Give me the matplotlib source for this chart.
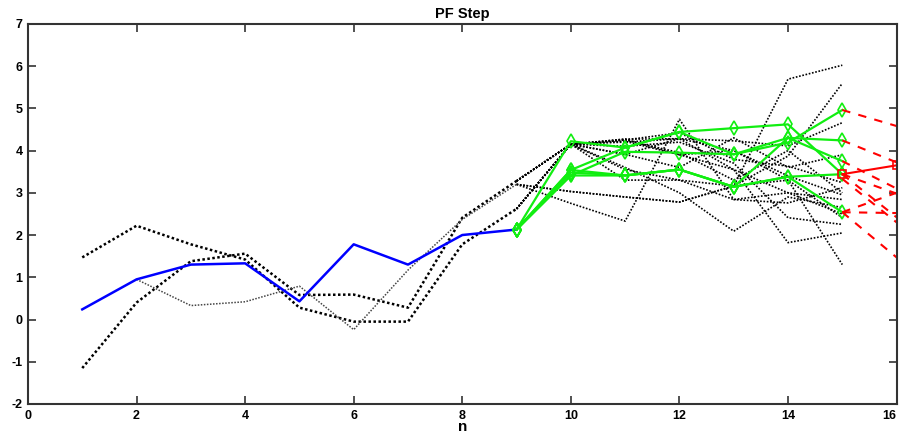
import numpy as np
import matplotlib
matplotlib.use("Agg")
import matplotlib.pyplot as plt

plt.rcParams['font.family'] = ['Liberation Sans', 'DejaVu Sans']
plt.rcParams['axes.unicode_minus'] = False

# true / estimated state, n = 1..9
n_blue = list(range(1, 10))
blue = [0.24, 0.95, 1.30, 1.33, 0.43, 1.78, 1.30, 2.00, 2.13]

# particle histories before the branching (n = 1..9, C starts at n = 2)
hist_a = [1.47, 2.22, 1.78, 1.42, 0.28, -0.05, -0.05, 1.78, 2.62]
hist_b = [-1.15, 0.40, 1.38, 1.56, 0.58, 0.59, 0.28, 2.41, 3.28]
hist_c = [0.95, 0.33, 0.42, 0.79, -0.24, 1.17, 2.37, 3.20]

# particle tails n = 10..15, each with the history it grows from
tail_from = ['b', 'b', 'a', 'a', 'b', 'c', 'c', 'a', 'b', 'a', 'b', 'c', 'a', 'b', 'a']
tails = [
    [4.15, 4.27, 4.28, 4.23, 4.11, 4.66],
    [4.15, 4.25, 4.42, 3.79, 3.63, 3.24],
    [4.15, 4.22, 3.90, 4.00, 3.30, 1.30],
    [4.15, 3.91, 4.28, 3.55, 3.00, 2.84],
    [4.15, 3.55, 3.30, 3.16, 5.69, 6.02],
    [3.03, 2.90, 2.78, 3.16, 3.87, 5.59],
    [2.75, 2.33, 4.74, 2.84, 2.76, 3.12],
    [4.15, 3.60, 3.00, 2.09, 2.90, 2.65],
    [4.15, 4.27, 3.90, 3.55, 1.82, 2.05],
    [4.15, 4.10, 4.20, 3.70, 2.41, 2.25],
    [4.15, 4.25, 3.95, 3.30, 4.00, 3.00],
    [3.03, 2.90, 2.78, 3.16, 3.30, 2.41],
    [4.15, 3.91, 3.60, 4.30, 3.60, 3.90],
    [4.15, 3.30, 3.30, 2.84, 3.00, 2.50],
    [4.15, 4.20, 4.28, 4.00, 3.40, 2.95],
]

# surviving particles, n = 9..15
n_green = list(range(9, 16))
green = [
    [2.13, 4.22, 4.07, 4.44, 4.53, 4.62, 3.44],
    [2.13, 3.54, 4.07, 4.44, 3.91, 4.19, 4.96],
    [2.13, 3.41, 3.97, 3.95, 3.91, 4.30, 4.24],
    [2.13, 3.54, 3.41, 3.55, 3.14, 4.30, 3.75],
    [2.13, 3.41, 3.41, 3.55, 3.14, 3.38, 2.54],
    [2.13, 3.48, 3.41, 3.55, 3.14, 3.38, 3.44],
]

# one-step predictions n = 15 -> 16
pred_start = [4.96, 4.24, 3.75, 3.44, 3.44, 3.33, 2.54, 2.54, 2.54]
pred_end = [4.58, 3.72, 3.10, 2.98, 2.42, 2.30, 3.00, 2.52, 1.47]
est_n = [15, 16]
est = [3.44, 3.65]

fig = plt.figure(figsize=(9.02, 4.33), dpi=100)
ax = fig.add_axes([0.031, 0.067, 0.963, 0.878])

hist = {'a': hist_a, 'b': hist_b, 'c': hist_c}
dots = (0, (1, 1))

for key, tail in zip(tail_from, tails):
    h = hist[key]
    ax.plot([9] + list(range(10, 16)), [h[-1]] + tail, color='black', ls=dots, lw=1.2)

ax.plot(range(1, 10), hist_a, color='black', ls=dots, lw=1.8)
ax.plot(range(1, 10), hist_b, color='black', ls=dots, lw=1.8)
ax.plot(range(2, 10), hist_c, color='#444444', ls=dots, lw=1.1)

ax.plot(n_blue, blue, color='blue', lw=1.8)

for g in green:
    ax.plot(n_green, g, color='#11ee11', lw=1.6, marker='d', ms=7,
            mfc='none', mec='#11ee11', mew=1.2)

for s, e in zip(pred_start, pred_end):
    ax.plot([15, 16], [s, e], color='red', ls=(0, (4, 4)), lw=1.5)
ax.plot(est_n, est, color='red', lw=1.5, marker='s', ms=6, mfc='none', mec='red', mew=1.2)

ax.set_xlim(0, 16)
ax.set_ylim(-2, 7)
ax.set_xticks(np.arange(0, 17, 2))
ax.set_yticks(np.arange(-2, 8, 1))
ax.tick_params(direction='in', top=True, right=True, length=6, width=1.2,
               labelsize=9, color='#333333', pad=4)
for lab in ax.get_xticklabels() + ax.get_yticklabels():
    lab.set_fontweight('bold')
ax.get_xticklabels()[-1].set_horizontalalignment('right')
for sp in ax.spines.values():
    sp.set_linewidth(1.5)
    sp.set_color('#333333')

ax.set_title('PF Step', fontsize=10.5, fontweight='bold', pad=4)
ax.set_xlabel('n', fontsize=11, fontweight='bold', labelpad=-1)

fig.savefig('out.png', dpi=100)
